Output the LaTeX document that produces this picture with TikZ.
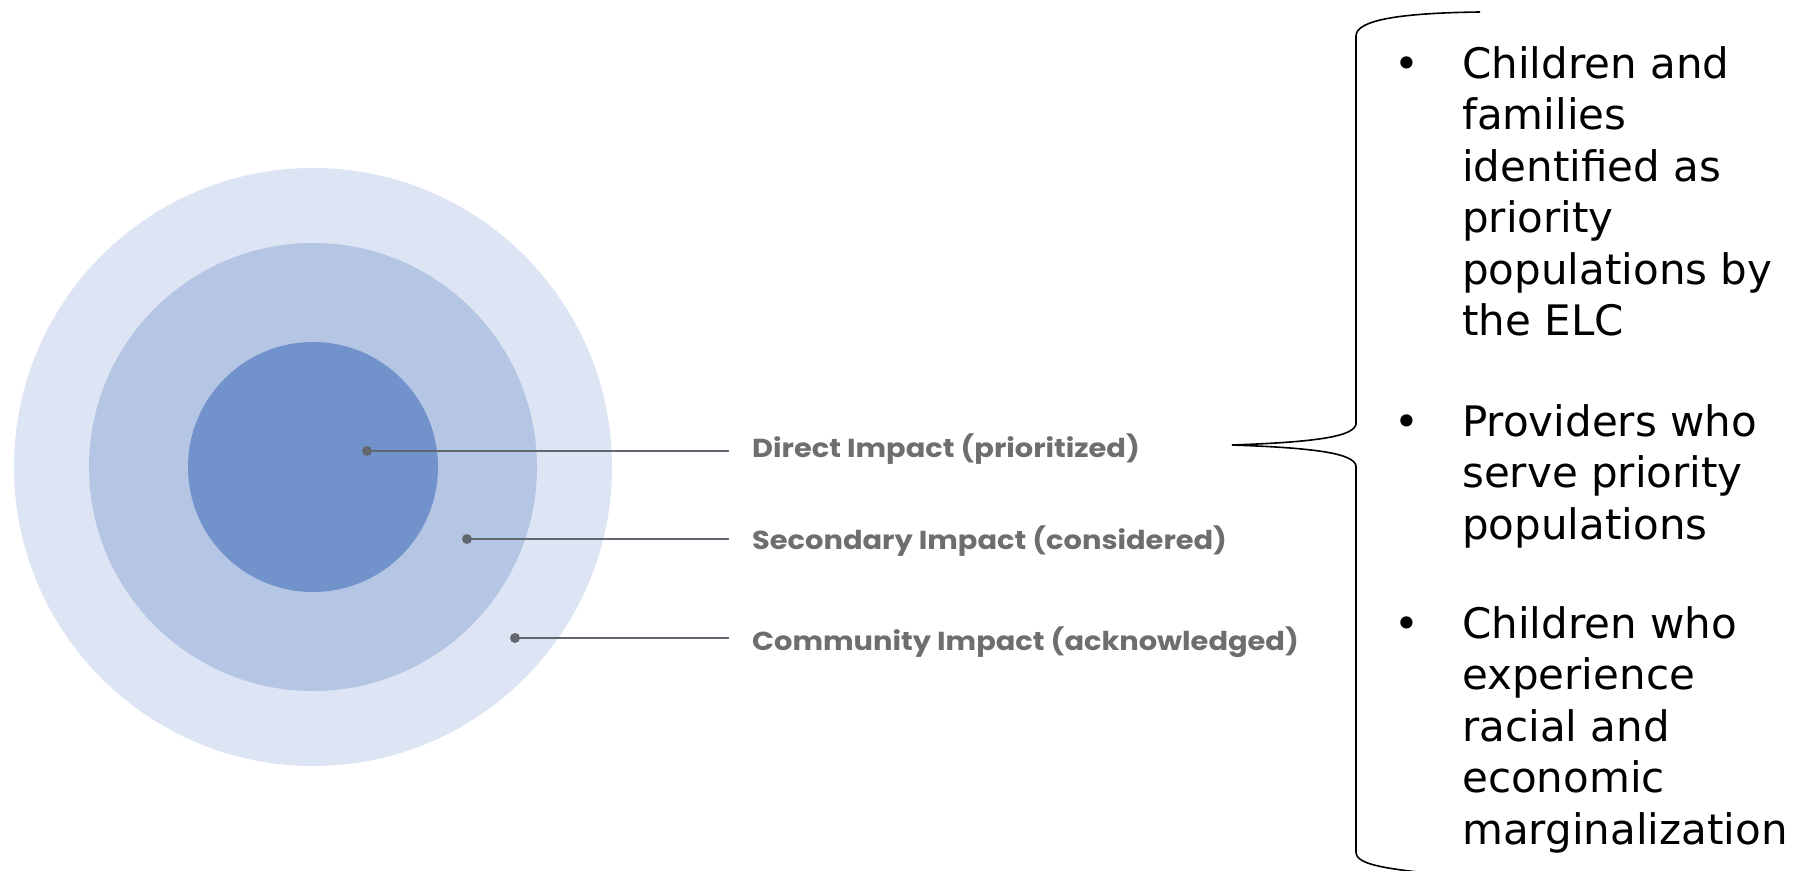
\documentclass[tikz,border=0pt]{standalone}
\usepackage{fontspec}
\newfontfamily\bulletfont{DejaVu Sans}
\newfontfamily\labelfont{Poppins}[FakeStretch=1.11]
\definecolor{outerblue}{RGB}{221,228,243}
\definecolor{midblue}{RGB}{181,197,228}
\definecolor{innerblue}{RGB}{113,146,203}
\definecolor{linegray}{RGB}{98,102,110}
\definecolor{labelgray}{RGB}{110,110,110}
\begin{document}
\begin{tikzpicture}[x=1pt,y=-1pt,
  ring/.style={circle, draw=none, inner sep=0pt, outer sep=0pt},
  dot/.style={circle, fill=linegray, inner sep=0pt, outer sep=0pt, minimum size=10pt},
  leader/.style={draw=linegray, line width=2.6pt},
  lbl/.style={anchor=base west, inner sep=0pt, text=labelgray, font=\labelfont\bfseries\fontsize{26}{30}\selectfont},
  item/.style={anchor=base west, inner sep=0pt, font=\bulletfont\fontsize{42}{51.5}\selectfont},
  bulletsym/.style={anchor=base, inner sep=0pt, font=\bulletfont\fontsize{42}{51.5}\selectfont},
  brace/.style={draw=black, line width=1.6pt}]
\useasboundingbox (0,0) rectangle (1793,870);
\clip (0,0) rectangle (1793,870);
% rings
\node[ring, fill=outerblue, minimum size=598pt] (outer) at (313,467) {};
\node[ring, fill=midblue, minimum size=448pt] (middle) at (313,467) {};
\node[ring, fill=innerblue, minimum size=250pt] (inner) at (313,467) {};
% dots, leaders and labels
\node[dot] (d1) at (367,451) {};
\node[dot] (d2) at (467,539) {};
\node[dot] (d3) at (515,638) {};
\coordinate (e1) at (729,451);
\coordinate (e2) at (729,539);
\coordinate (e3) at (729,638);
\draw[leader] (d1.center) -- (e1);
\draw[leader] (d2.center) -- (e2);
\draw[leader] (d3.center) -- (e3);
\node[lbl] (l1) at (752,457) {Direct Impact (prioritized)};
\node[lbl] (l2) at (752,549) {Secondary Impact (considered)};
\node[lbl] (l3) at (752,650) {Community Impact (acknowledged)};
% brace
\coordinate (tip) at (1232,445);
\draw[brace] (1480,12) .. controls (1400,13) and (1356,20) .. (1356,36)
  -- (1356,424) .. controls (1354,436) and (1320,442) .. (tip)
  .. controls (1320,448) and (1354,454) .. (1356,466)
  -- (1356,852) .. controls (1356,866) and (1390,870) .. (1480,878);
% bullets
\node[bulletsym] (b1) at (1407,78) {•};
\node[bulletsym] (b2) at (1407,436) {•};
\node[bulletsym] (b3) at (1407,638) {•};
\foreach \t [count=\i] in {Children and, families, identified as, priority, populations by, the ELC}
  \node[item] (ga\i) at (1462,{78+(\i-1)*51.5}) {\t};
\foreach \t [count=\i] in {Providers who, serve priority, populations}
  \node[item] (gb\i) at (1462,{436+(\i-1)*51.5}) {\t};
\foreach \t [count=\i] in {Children who, experience, racial and, economic, marginalization}
  \node[item] (gc\i) at (1462,{638+(\i-1)*51.5}) {\t};
\end{tikzpicture}
\end{document}
